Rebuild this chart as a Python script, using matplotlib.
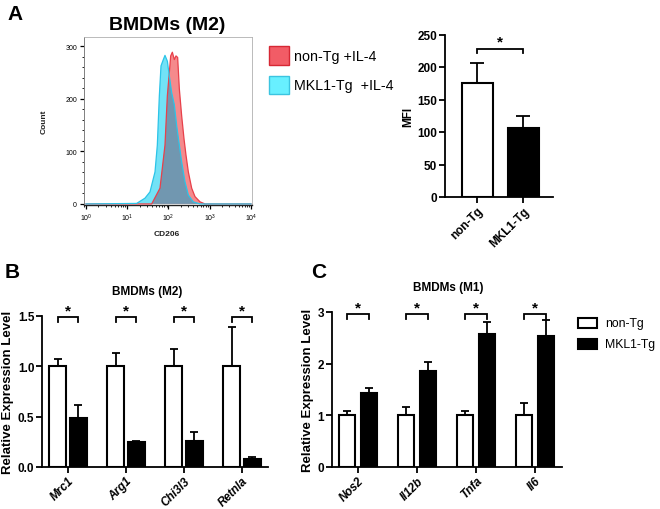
import matplotlib
matplotlib.use("Agg")
import matplotlib.pyplot as plt
import matplotlib.patches as mpatches
from matplotlib.ticker import MultipleLocator, LogLocator, NullFormatter, FormatStrFormatter
import numpy as np

plt.rcParams['font.family'] = ['Liberation Sans', 'DejaVu Sans']

# ---------------- data ----------------
# Panel A histogram (CD206 intensity vs count)
mkl1_cd206 = [1.0, 16.9, 26.9, 35.6, 47.1, 53.6, 60.0, 65.8, 75.0, 82.2, 93.8, 104.7,
              119.4, 138.4, 157.8, 183.2, 208.4, 251.2, 302.7, 400.0, 580.8, 10000.0]
mkl1_count = [0, 1, 11, 23, 61, 112, 206, 263, 275, 283, 272, 244,
              212, 189, 149, 112, 80, 42, 17, 4, 0, 0]
nontg_cd206 = [1.0, 39.1, 62.2, 82.2, 93.8, 104.7, 113.0, 123.9, 138.4, 152.0, 166.7,
               183.2, 208.4, 237.7, 265.5, 302.7, 364.8, 438.5, 580.8, 767.4, 10000.0]
nontg_count = [0, 0, 30, 112, 206, 250, 282, 289, 275, 282, 279,
               219, 168, 124, 93, 61, 30, 14, 4, 0, 0]
hist_legend = ['non-Tg +IL-4', 'MKL1-Tg  +IL-4']

# Panel A MFI bars
mfi_groups = ['non-Tg', 'MKL1-Tg']
mfi_mean = [175, 106]
mfi_err = [31, 18]

# Panel B (M2 genes)
m2_genes = ['Mrc1', 'Arg1', 'Chi3l3', 'Retnla']
m2_nontg = [1.0, 1.0, 1.0, 1.0]
m2_nontg_err = [0.07, 0.135, 0.17, 0.39]
m2_mkl1 = [0.49, 0.245, 0.26, 0.08]
m2_mkl1_err = [0.13, 0.01, 0.09, 0.02]

# Panel C (M1 genes)
m1_genes = ['Nos2', 'Il12b', 'Tnfa', 'Il6']
m1_nontg = [1.0, 1.0, 1.0, 1.0]
m1_nontg_err = [0.08, 0.16, 0.08, 0.23]
m1_mkl1 = [1.44, 1.86, 2.58, 2.53]
m1_mkl1_err = [0.09, 0.18, 0.22, 0.32]

legend_labels = ['non-Tg', 'MKL1-Tg']

# ---------------- figure ----------------
W, H = 660, 510
fig = plt.figure(figsize=(6.6, 5.1), dpi=100)

def fx(px):
    return px / W

def fy(py):
    return 1 - py / H

def ax_rect(l, t, r, b):
    return [fx(l), fy(b), (r - l) / W, (b - t) / H]

# ---- Panel A: histogram ----
axh = fig.add_axes(ax_rect(84, 38, 252, 206))
cyan_fill = '#72e2f6'
red_fill = '#f58a8c'
overlap_fill = '#7197b0'
cy = axh.fill(mkl1_cd206, mkl1_count, color=cyan_fill, lw=0, zorder=1)[0]
rd = axh.fill(nontg_cd206, nontg_count, color=red_fill, lw=0, zorder=1)[0]
ov = axh.fill(nontg_cd206, nontg_count, color=overlap_fill, lw=0, zorder=2)[0]
ov.set_clip_path(cy)
axh.plot(nontg_cd206, nontg_count, color='#e8404a', lw=0.9, zorder=3)
axh.plot(mkl1_cd206, mkl1_count, color='#2cc4e8', lw=0.9, zorder=4)
axh.set_xscale('log')
axh.set_xlim(0.895, 10570)
axh.set_ylim(-2, 318)
axh.set_yticks([0, 100, 200, 300])
axh.yaxis.set_minor_locator(MultipleLocator(20))
axh.xaxis.set_major_locator(LogLocator(base=10, numticks=10))
axh.xaxis.set_minor_locator(LogLocator(base=10, subs=np.arange(2, 10), numticks=20))
axh.xaxis.set_minor_formatter(NullFormatter())
axh.tick_params(axis='both', which='major', labelsize=5, length=3, width=0.9, direction='out', pad=2)
axh.tick_params(axis='both', which='minor', length=1.5, width=0.6, direction='out')
for s in ['top', 'right']:
    axh.spines[s].set_color('#b0b0b0')
    axh.spines[s].set_linewidth(0.6)
axh.spines['left'].set_color('#808080')
axh.spines['left'].set_linewidth(0.7)
axh.spines['bottom'].set_color('#222222')
axh.spines['bottom'].set_linewidth(1.0)
fig.text(fx(44), fy(122), 'Count', rotation=90, ha='center', va='center', fontsize=6, fontweight='bold', color='#222222')
fig.text(fx(167), fy(235), 'CD206', ha='center', va='center', fontsize=6, fontweight='bold', color='#222222')
fig.text(fx(167), fy(25), 'BMDMs (M2)', ha='center', va='center', fontsize=14, fontweight='bold')
fig.text(fx(7), fy(14), 'A', ha='left', va='center', fontsize=15, fontweight='bold')

# legend for histogram
fig.patches.append(mpatches.Rectangle((fx(269), fy(66)), 20 / W, 19 / H, transform=fig.transFigure,
                                      facecolor='#f25c66', edgecolor='#d62834', lw=1.0))
fig.patches.append(mpatches.Rectangle((fx(269), fy(95)), 20 / W, 18 / H, transform=fig.transFigure,
                                      facecolor='#68f0ff', edgecolor='#3cc4e0', lw=1.0))
fig.text(fx(294), fy(57), hist_legend[0], ha='left', va='center', fontsize=10.3)
fig.text(fx(294), fy(86), hist_legend[1], ha='left', va='center', fontsize=10.3)


def style_prism(ax, ticklabel_size=8.5):
    for s in ['top', 'right']:
        ax.spines[s].set_visible(False)
    for s in ['left', 'bottom']:
        ax.spines[s].set_linewidth(1.3)
    ax.tick_params(axis='both', length=4, width=1.3, direction='out', labelsize=ticklabel_size, pad=1.5)
    for lab in ax.get_yticklabels():
        lab.set_fontweight('bold')


def bracket(ax, x1, x2, y, dy, star_size=11):
    ax.plot([x1, x1, x2, x2], [y - dy, y, y, y - dy], color='black', lw=1.3, clip_on=False,
            solid_joinstyle='miter')
    ax.text((x1 + x2) / 2, y, '*', ha='center', va='bottom', fontsize=star_size, fontweight='bold',
            clip_on=False)

# ---- Panel A: MFI bars ----
axa = fig.add_axes(ax_rect(445, 35.5, 553, 198))
xa = np.arange(len(mfi_groups))
axa.bar(xa[0], mfi_mean[0], width=0.67, color='white', edgecolor='black', lw=1.5, zorder=2)
axa.bar(xa[1], mfi_mean[1], width=0.67, color='black', edgecolor='black', lw=1.5, zorder=2)
axa.errorbar(xa, mfi_mean, yerr=[[0, 0], mfi_err], fmt='none', ecolor='black', elinewidth=1.3,
             capsize=4.8, capthick=1.3, zorder=1)
axa.set_xlim(-0.70, 1.64)
axa.set_ylim(0, 250)
axa.set_yticks([0, 50, 100, 150, 200, 250])
axa.set_xticks(xa)
axa.set_xticklabels(mfi_groups, rotation=45, ha='right', rotation_mode='anchor', fontweight='bold', fontsize=8)
style_prism(axa, 8.5)
axa.set_ylabel('MFI', fontsize=8.5, fontweight='bold', labelpad=2)
bracket(axa, 0, 1, 228, 6)

# ---- Panel B ----
def gene_panel(rect, genes, nontg, nontg_err, mkl1, mkl1_err, ylim, yticks, fmt, title, title_xy,
               br_y, br_dy, off, width, xlim):
    ax = fig.add_axes(rect)
    x = np.arange(len(genes))
    ax.bar(x - off, nontg, width=width, color='white', edgecolor='black', lw=1.5, zorder=2)
    ax.bar(x + off, mkl1, width=width, color='black', edgecolor='black', lw=1.5, zorder=2)
    ax.errorbar(x - off, nontg, yerr=[np.zeros(len(x)), nontg_err], fmt='none', ecolor='black',
                elinewidth=1.3, capsize=3.2, capthick=1.3, zorder=1)
    ax.errorbar(x + off, mkl1, yerr=[np.zeros(len(x)), mkl1_err], fmt='none', ecolor='black',
                elinewidth=1.3, capsize=3.2, capthick=1.3, zorder=1)
    ax.set_xlim(*xlim)
    ax.set_ylim(*ylim)
    ax.set_yticks(yticks)
    ax.yaxis.set_major_formatter(FormatStrFormatter(fmt))
    ax.set_xticks(x)
    ax.set_xticklabels(genes, rotation=45, ha='right', rotation_mode='anchor', fontweight='bold',
                       fontstyle='italic', fontsize=8)
    style_prism(ax, 8.5)
    ax.set_ylabel('Relative Expression Level', fontsize=9.5, fontweight='bold', labelpad=3)
    for i in x:
        bracket(ax, i - off, i + off, br_y, br_dy)
    fig.text(fx(title_xy[0]), fy(title_xy[1]), title, ha='center', va='center', fontsize=8.5,
             fontweight='bold')
    return ax

axb = gene_panel(ax_rect(42, 317, 268, 468), m2_genes, m2_nontg, m2_nontg_err, m2_mkl1, m2_mkl1_err,
                 (0, 1.5), [0.0, 0.5, 1.0, 1.5], '%.1f', 'BMDMs (M2)', (147, 292),
                 1.49, 0.05, 0.18, 0.285, (-0.448, 3.448))
axc = gene_panel(ax_rect(332, 313, 562, 468), m1_genes, m1_nontg, m1_nontg_err, m1_mkl1, m1_mkl1_err,
                 (0, 3), [0, 1, 2, 3], '%d', 'BMDMs (M1)', (448, 288),
                 2.96, 0.1, 0.19, 0.27, (-0.44, 3.46))

fig.text(fx(5), fy(273), 'B', ha='left', va='center', fontsize=15, fontweight='bold')
fig.text(fx(311), fy(273), 'C', ha='left', va='center', fontsize=15, fontweight='bold')

# legend for panel C
fig.patches.append(mpatches.Rectangle((fx(578), fy(329)), 19 / W, 10 / H, transform=fig.transFigure,
                                      facecolor='white', edgecolor='black', lw=1.5))
fig.patches.append(mpatches.Rectangle((fx(578), fy(350)), 19 / W, 10 / H, transform=fig.transFigure,
                                      facecolor='black', edgecolor='black', lw=1.5))
fig.text(fx(605), fy(324), legend_labels[0], ha='left', va='center', fontsize=8.8)
fig.text(fx(605), fy(345), legend_labels[1], ha='left', va='center', fontsize=8.8)

fig.savefig('out.png', dpi=100)
